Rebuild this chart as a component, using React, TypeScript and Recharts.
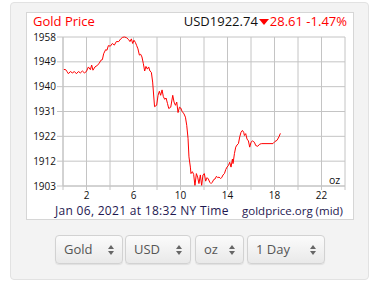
import { LineChart, Line, XAxis, YAxis, CartesianGrid } from 'recharts';

// hours since midnight (NY time) and mid price in USD/oz
const hours = [
  0.06, 0.23, 0.34, 0.46, 0.63, 0.8, 0.97, 1.14, 1.31, 1.48, 1.65, 1.82, 1.99, 2.16, 2.33, 2.44,
  2.55, 2.72, 2.89, 3.06, 3.23, 3.35, 3.46, 3.63, 3.74, 3.86, 4.03, 4.2, 4.37, 4.54, 4.74, 4.91,
  5.08, 5.25, 5.42, 5.59, 5.7, 5.82, 5.93, 6.04, 6.16, 6.27, 6.38, 6.5, 6.61, 6.72, 6.84, 6.95,
  7.06, 7.18, 7.29, 7.4, 7.52, 7.63, 7.79, 7.97, 8.09, 8.2, 8.31, 8.43, 8.54, 8.66, 8.77, 8.89,
  9.0, 9.17, 9.34, 9.45, 9.57, 9.68, 9.79, 9.91, 10.02, 10.13, 10.3, 10.42, 10.53, 10.64, 10.72,
  10.84, 10.89, 11.01, 11.12, 11.23, 11.35, 11.46, 11.57, 11.69, 11.8, 11.91, 12.03, 12.14, 12.26,
  12.37, 12.49, 12.6, 12.71, 12.83, 12.94, 13.06, 13.17, 13.28, 13.4, 13.51, 13.62, 13.74, 13.85,
  13.96, 14.08, 14.19, 14.3, 14.42, 14.47, 14.59, 14.7, 14.81, 14.93, 15.04, 15.15, 15.27, 15.38,
  15.44, 15.55, 15.66, 15.78, 15.89, 16.0, 16.12, 16.29, 16.4, 16.57, 16.74, 16.91, 17.87, 18.04,
  18.21, 18.38, 18.5,
];
const prices = [
  1946.4, 1946.3, 1945.6, 1944.8, 1945.6, 1945.1, 1945.6, 1944.8, 1945.6, 1945.1, 1945.8, 1945.1,
  1945.6, 1947.3, 1946.3, 1948.0, 1946.1, 1947.3, 1947.8, 1948.5, 1949.8, 1950.0, 1952.2, 1953.7,
  1953.5, 1955.2, 1955.0, 1956.0, 1955.4, 1956.7, 1956.7, 1957.7, 1958.3, 1958.4, 1958.1, 1957.4,
  1956.7, 1957.7, 1956.0, 1957.2, 1956.4, 1955.2, 1954.0, 1951.7, 1952.0, 1951.0, 1948.5, 1945.8,
  1947.5, 1946.5, 1947.3, 1945.8, 1945.3, 1941.7, 1932.6, 1933.1, 1936.8, 1938.3, 1936.8, 1938.8,
  1936.3, 1935.3, 1935.8, 1933.8, 1931.9, 1932.4, 1936.8, 1934.3, 1933.1, 1934.3, 1930.4, 1932.4,
  1932.1, 1930.9, 1929.9, 1928.7, 1925.7, 1920.9, 1914.0, 1910.2, 1907.8, 1908.5, 1907.5, 1903.3,
  1907.8, 1906.5, 1904.1, 1907.3, 1903.3, 1907.3, 1907.8, 1905.0, 1906.3, 1905.8, 1904.6, 1904.1,
  1904.6, 1905.6, 1905.8, 1906.8, 1906.3, 1906.5, 1906.0, 1906.3, 1907.3, 1907.8, 1909.3, 1910.2,
  1910.8, 1912.0, 1910.2, 1913.2, 1911.5, 1915.2, 1917.6, 1918.4, 1918.9, 1921.4, 1923.1, 1923.8,
  1923.1, 1921.9, 1922.6, 1920.6, 1919.9, 1917.6, 1919.4, 1919.9, 1919.4, 1918.2, 1917.9, 1918.7,
  1918.9, 1918.9, 1919.7, 1920.1, 1921.4, 1922.7,
];

const hourTicks = [0, 2, 4, 6, 8, 10, 12, 14, 16, 18, 20, 22, 24];
const priceTicks = [1903.2, 1912.4, 1921.6, 1930.8, 1940.0, 1949.2, 1958.4];
const selectLabels = ['Gold', 'USD', 'oz', '1 Day'];

const points = hours.map((h, i) => ({ h, p: prices[i] }));

const grid = '#c4c4c4';
const font = '"Open Sans", "Noto Sans", sans-serif';

function SelectBox({ label, left, width }: { label: string; left: number; width: number }) {
  return (
    <div
      style={{
        position: 'absolute',
        left,
        top: 235,
        width,
        height: 29,
        boxSizing: 'border-box',
        border: '1px solid #d2d2d2',
        borderRadius: 4,
        background: 'linear-gradient(#fbfbfb, #e9e9e9)',
        boxShadow: '0 1px 1px rgba(0,0,0,0.08)',
        color: '#555',
        fontSize: 13,
        lineHeight: '27px',
        paddingLeft: 8,
      }}
    >
      {label}
      <svg width={6} height={10} style={{ position: 'absolute', right: 8, top: 9 }}>
        <path d="M3 0 L6 4 L0 4 Z" fill="#666" />
        <path d="M3 10 L6 6 L0 6 Z" fill="#666" />
      </svg>
    </div>
  );
}

export default function App() {
  const selectPos = [
    { left: 55, width: 68 },
    { left: 125, width: 66 },
    { left: 195, width: 49 },
    { left: 247, width: 78 },
  ];
  return (
    <div style={{ position: 'fixed', left: 0, top: 0, width: 370, height: 284, background: '#fff', fontFamily: font }}>
      <div
        style={{
          position: 'absolute',
          left: 10,
          top: 2,
          width: 359,
          height: 278,
          boxSizing: 'border-box',
          background: '#f3f3f3',
          border: '1px solid #e2e2e2',
          borderRadius: 4,
        }}
      />
      <div
        style={{
          position: 'absolute',
          left: 26,
          top: 12,
          width: 328,
          height: 208,
          boxSizing: 'border-box',
          background: '#fff',
          border: '1px solid #d6d6d6',
        }}
      />
      <div style={{ position: 'absolute', left: 33, top: 12.5, fontSize: 13, lineHeight: '16px', color: '#f00' }}>
        Gold Price
      </div>
      <div
        style={{
          position: 'absolute',
          right: 23,
          top: 12.5,
          fontSize: 13,
          lineHeight: '16px',
          color: '#f00',
          whiteSpace: 'nowrap',
        }}
      >
        <span style={{ color: '#111' }}>USD1922.74</span>
        <svg width={11} height={6} style={{ margin: '0 0 1px 1px' }}>
          <path d="M0 0 L10 0 L5 6 Z" fill="#f00" />
        </svg>
        28.61 -1.47%
      </div>

      <div style={{ position: 'absolute', left: 27, top: 13 }}>
        <LineChart width={326} height={206} data={points} margin={{ top: 24, right: 8, left: 0, bottom: 0 }}>
          <CartesianGrid stroke={grid} strokeWidth={1} />
          <XAxis
            dataKey="h"
            type="number"
            domain={[0, 24]}
            ticks={hourTicks}
            interval={0}
            height={33}
            tickSize={4}
            tickMargin={2}
            axisLine={{ stroke: grid }}
            tickLine={{ stroke: grid }}
            tick={{ fill: '#111', fontSize: 10, fontFamily: font }}
            tickFormatter={(v: number) => (v % 4 === 2 ? String(v) : '')}
          />
          <YAxis
            type="number"
            domain={[1903.2, 1958.4]}
            ticks={priceTicks}
            interval={0}
            width={36}
            tickSize={6}
            tickMargin={1}
            axisLine={{ stroke: grid }}
            tickLine={{ stroke: grid }}
            tick={{ fill: '#111', fontSize: 10, fontFamily: font }}
            tickFormatter={(v: number) => String(Math.round(v))}
          />
          <Line
            type="linear"
            dataKey="p"
            stroke="#ff0000"
            strokeWidth={1}
            dot={false}
            isAnimationActive={false}
          />
        </LineChart>
      </div>

      <div style={{ position: 'absolute', left: 329, top: 173, fontSize: 10.5, lineHeight: '14px', color: '#111' }}>oz</div>
      <div
        style={{
          position: 'absolute',
          left: 55,
          top: 205,
          fontSize: 12,
          lineHeight: '11px',
          letterSpacing: 0.3,
          color: '#1e1850',
          whiteSpace: 'nowrap',
        }}
      >
        Jan 06, 2021 at 18:32 NY Time
      </div>
      <div style={{ position: 'absolute', right: 27, top: 205, fontSize: 11.5, lineHeight: '11px', color: '#1e1850', whiteSpace: 'nowrap' }}>
        goldprice.org (mid)
      </div>

      {selectLabels.map((s, i) => (
        <SelectBox key={s} label={s} left={selectPos[i].left} width={selectPos[i].width} />
      ))}
    </div>
  );
}
